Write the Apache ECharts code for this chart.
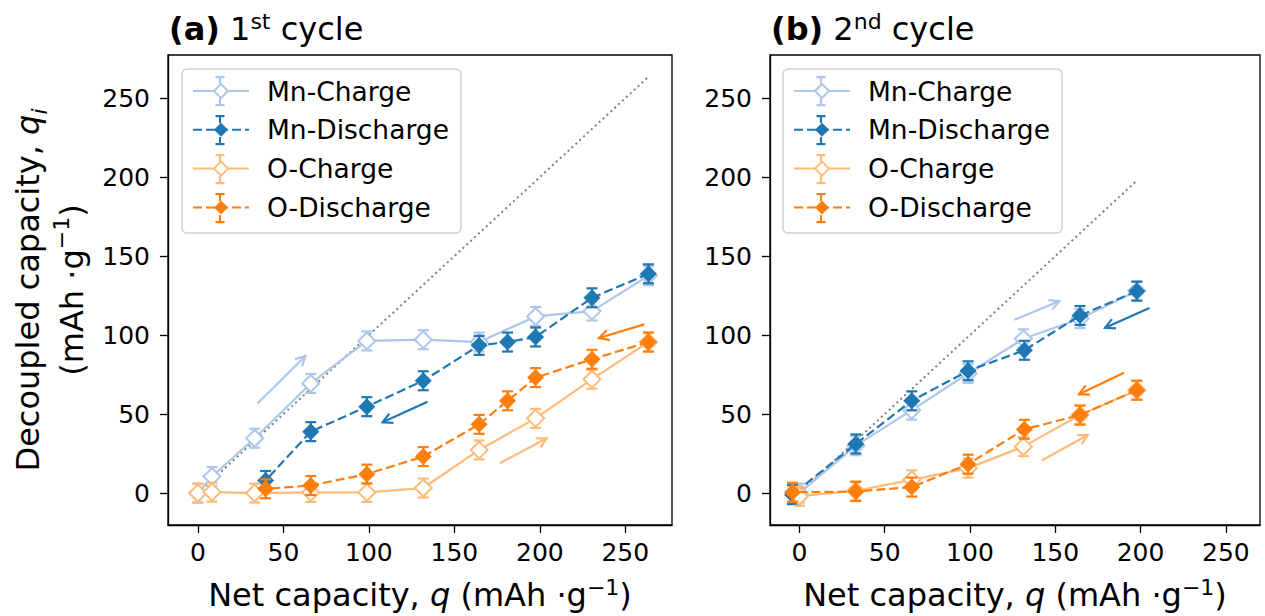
<!DOCTYPE html>
<html><head><meta charset="utf-8">
<script src="https://cdn.jsdelivr.net/npm/echarts@6/dist/echarts.min.js"></script>
<style>html,body{margin:0;padding:0;background:#fff}#c{width:1265px;height:616px}</style>
</head><body><div id="c"></div>
<script>
// ---------- data ----------
const seriesNames = ['Mn-Charge', 'Mn-Discharge', 'O-Charge', 'O-Discharge'];
const tickValues = [0, 50, 100, 150, 200, 250];

// panel (a) 1st cycle
const xChargeA      = [0, 8.2, 33.2, 66, 98.8, 131.8, 164.5, 197.5, 230.5, 263.5];
const mnChargeA     = [0, 10.5, 34.7, 69.4, 96.3, 97.1, 95.6, 111.8, 115.2, 137.6];
const mnChargeErrA  = [6, 6, 6, 6, 6, 6, 6, 6, 6, 6];
const oChargeA      = [0, 0.6, 0, 0.4, 0.4, 3.2, 27.3, 47.3, 72.1, 95.6];
const oChargeErrA   = [6, 6, 6, 6, 6, 6, 6, 6, 6, 6];
const xDischargeA   = [263.5, 230.5, 197.5, 181.1, 164.5, 131.8, 98.8, 66, 39.6];
const mnDischargeA  = [138.8, 123.6, 98.8, 95.6, 93.5, 71.1, 54.7, 38.9, 8.0];
const mnDischargeErrA = [6, 6, 6, 6, 6, 6, 6, 6, 6];
const oDischargeA   = [95.6, 84.7, 73.1, 58.4, 43.5, 23.1, 12.0, 4.8, 2.7];
const oDischargeErrA = [6, 6, 6, 6, 6, 6, 6, 6, 6];
const diagonalA     = [[0, 0], [263.5, 263.5]];
const arrowMnChargeA    = [[34.8, 56.7], [62.9, 86.8]];
const arrowMnDischargeA = [[134.3, 57.8], [108, 44.8]];
const arrowOChargeA     = [[176.6, 18.9], [204, 34.7]];
const arrowODischargeA  = [[261.1, 106.8], [234.6, 98.2]];

// panel (b) 2nd cycle
const xChargeB      = [0, 33.1, 65.9, 98.9, 131.3, 164.5, 197.8];
const mnChargeB     = [0, 30, 52.5, 75.7, 97.7, 110.4, 128];
const mnChargeErrB  = [6, 6, 6, 6, 6, 6, 6];
const oChargeB      = [-2, 1.5, 8.4, 15.8, 29.4, 49.4, 65.1];
const oChargeErrB   = [6, 6, 6, 6, 6, 6, 6];
const xDischargeB   = [197.8, 164.5, 131.9, 98.9, 65.9, 33.1, -4];
const mnDischargeB  = [127.8, 112.4, 90.4, 77.4, 58.4, 31.1, -1];
const mnDischargeErrB = [6, 6, 6, 6, 6, 6, 6];
const oDischargeB   = [65.1, 49.4, 40.4, 18.3, 3.8, 1.0, 0.5];
const oDischargeErrB = [6, 6, 6, 6, 6, 6, 6];
const diagonalB     = [[0, 0], [198, 198]];
const arrowMnChargeB    = [[126, 109.7], [152.4, 121.5]];
const arrowMnDischargeB = [[205.2, 117.1], [179.2, 104.7]];
const arrowOChargeB     = [[142.1, 20.6], [169.1, 36.8]];
const arrowODischargeB  = [[190.3, 76.1], [163.9, 62.6]];

// ---------- styles ----------
const FONT = 'DejaVu Sans';
const colors = {'Mn-Charge': '#aec7e8', 'Mn-Discharge': '#1f77b4', 'O-Charge': '#ffbb78', 'O-Discharge': '#ff7f0e'};
const hollow = {'Mn-Charge': true, 'Mn-Discharge': false, 'O-Charge': true, 'O-Discharge': false};

const panels = [
  {
    sets: {
      'Mn-Charge':    [xChargeA, mnChargeA, mnChargeErrA, arrowMnChargeA],
      'Mn-Discharge': [xDischargeA, mnDischargeA, mnDischargeErrA, arrowMnDischargeA],
      'O-Charge':     [xChargeA, oChargeA, oChargeErrA, arrowOChargeA],
      'O-Discharge':  [xDischargeA, oDischargeA, oDischargeErrA, arrowODischargeA]
    },
    diag: diagonalA
  },
  {
    sets: {
      'Mn-Charge':    [xChargeB, mnChargeB, mnChargeErrB, arrowMnChargeB],
      'Mn-Discharge': [xDischargeB, mnDischargeB, mnDischargeErrB, arrowMnDischargeB],
      'O-Charge':     [xChargeB, oChargeB, oChargeErrB, arrowOChargeB],
      'O-Discharge':  [xDischargeB, oDischargeB, oDischargeErrB, arrowODischargeB]
    },
    diag: diagonalB
  }
];

const LW = 2.2;
const series = [];
panels.forEach((p, gi) => {
  let z = 2;
  series.push({
    type: 'line', name: 'diag' + gi, xAxisIndex: gi, yAxisIndex: gi, z: z++,
    data: p.diag, symbol: 'none', silent: true,
    lineStyle: {color: '#808080', width: 2, type: [2, 3.3]}
  });
  seriesNames.forEach(name => {
    const [xs, ys, es] = p.sets[name];
    const col = colors[name];
    series.push({
      type: 'custom', name: name + ' err' + gi, xAxisIndex: gi, yAxisIndex: gi, z: z++, silent: true,
      data: xs.map((x, i) => [x, ys[i], es[i]]),
      encode: {x: 0, y: 1},
      renderItem: function (params, api) {
        const x = api.value(0), y = api.value(1), e = api.value(2);
        const a = api.coord([x, y + e]), b = api.coord([x, y - e]);
        const c = 5.5;
        const st = {stroke: col, lineWidth: LW, fill: null};
        return {type: 'group', children: [
          {type: 'line', shape: {x1: a[0], y1: a[1], x2: b[0], y2: b[1]}, style: st},
          {type: 'line', shape: {x1: a[0] - c, y1: a[1], x2: a[0] + c, y2: a[1]}, style: st},
          {type: 'line', shape: {x1: b[0] - c, y1: b[1], x2: b[0] + c, y2: b[1]}, style: st}
        ]};
      }
    });
    series.push({
      type: 'line', name: name, xAxisIndex: gi, yAxisIndex: gi, z: z++,
      data: xs.map((x, i) => [x, ys[i]]),
      symbol: hollow[name] ? 'emptyDiamond' : 'diamond', symbolSize: 17,
      lineStyle: {color: col, width: LW, type: hollow[name] ? 'solid' : [9, 4]},
      itemStyle: {color: col, borderColor: col, borderWidth: hollow[name] ? 2 : 0},
      emphasis: {disabled: true}
    });
  });
  seriesNames.forEach(name => {
    const arr = p.sets[name][3];
    const col = colors[name];
    series.push({
      type: 'custom', name: name + ' arrow' + gi, xAxisIndex: gi, yAxisIndex: gi, z: z++, silent: true,
      data: [[arr[0][0], arr[0][1], arr[1][0], arr[1][1]]],
      encode: {x: [0, 2], y: [1, 3]},
      renderItem: function (params, api) {
        const p0 = api.coord([api.value(0), api.value(1)]);
        const p1 = api.coord([api.value(2), api.value(3)]);
        const ang = Math.atan2(p1[1] - p0[1], p1[0] - p0[0]);
        const L = 11, A = Math.PI / 6.5;
        const h1 = [p1[0] - L * Math.cos(ang - A), p1[1] - L * Math.sin(ang - A)];
        const h2 = [p1[0] - L * Math.cos(ang + A), p1[1] - L * Math.sin(ang + A)];
        const st = {stroke: col, lineWidth: LW, fill: null};
        return {type: 'group', children: [
          {type: 'line', shape: {x1: p0[0], y1: p0[1], x2: p1[0], y2: p1[1]}, style: st},
          {type: 'polyline', shape: {points: [h1, p1, h2]}, style: st}
        ]};
      }
    });
  });
});

const grids = [
  {left: 168, top: 55, width: 504, height: 472},
  {left: 770, top: 55, width: 490, height: 472}
].map(g => Object.assign(g, {show: true, borderColor: '#000', borderWidth: 1.3, backgroundColor: 'transparent', containLabel: false}));

const xRanges = [[-17.5, 277.3], [-17.2, 270.0]];
const LBL = 32, SUP = 22;
const supRich = {
  n: {fontSize: LBL, fontFamily: FONT, fontWeight: 'normal', color: '#000', lineHeight: 38},
  i: {fontSize: LBL, fontFamily: FONT, fontWeight: 'normal', color: '#000', fontStyle: 'italic', lineHeight: 38},
  sup: {fontSize: SUP, fontFamily: FONT, fontWeight: 'normal', color: '#000', lineHeight: 12, verticalAlign: 'top'}
};
const yRich = {
  n: {fontSize: LBL, fontFamily: FONT, fontWeight: 'normal', color: '#000', lineHeight: 44},
  i: {fontSize: LBL, fontFamily: FONT, fontWeight: 'normal', color: '#000', fontStyle: 'italic', lineHeight: 44},
  sub: {fontSize: SUP, fontFamily: FONT, fontWeight: 'normal', color: '#000', fontStyle: 'italic', lineHeight: 32, verticalAlign: 'bottom'},
  sup: {fontSize: SUP, fontFamily: FONT, fontWeight: 'normal', color: '#000', lineHeight: 18, verticalAlign: 'top'}
};

const axisCommon = {
  type: 'value',
  splitLine: {show: false},
  axisLine: {show: true, onZero: false, lineStyle: {color: '#000', width: 1.3}},
  axisTick: {show: true, inside: false, length: 8, customValues: tickValues, lineStyle: {color: '#000', width: 1.3}},
  axisLabel: {customValues: tickValues, fontSize: 25, fontFamily: FONT, color: '#000'}
};

const xAxis = xRanges.map((r, gi) => Object.assign({}, axisCommon, {
  gridIndex: gi, min: r[0], max: r[1],
  axisLabel: Object.assign({}, axisCommon.axisLabel, {margin: 15}),
  name: '{n|Net capacity, }{i|q}{n| (mAh ·g}{sup|−1}{n|)}',
  nameLocation: 'middle', nameGap: 51,
  nameTextStyle: {rich: supRich}
}));
const yAxis = [0, 1].map(gi => Object.assign({}, axisCommon, {
  gridIndex: gi, min: -20.2, max: 277.3,
  axisLabel: Object.assign({}, axisCommon.axisLabel, {margin: 18}),
  name: gi === 0 ? '{n|Decoupled capacity, }{i|q}{sub|i}\n{n|(mAh ·g}{sup|−1}{n|)}' : '',
  nameLocation: 'middle', nameRotate: 90, nameGap: 74,
  nameTextStyle: {rich: yRich}
}));

const titleRich = {
  b: {fontSize: 32, fontFamily: FONT, fontWeight: 'bold', color: '#000', lineHeight: 38},
  n: {fontSize: 32, fontFamily: FONT, fontWeight: 'normal', color: '#000', lineHeight: 38},
  sup: {fontSize: 22, fontFamily: FONT, fontWeight: 'normal', color: '#000', lineHeight: 12, verticalAlign: 'top'}
};

// legend layout
const LEG_FONT = 26.5;
const LEG_TOP = 69, LEG_PAD = [8.5, 12, 12, 10], ITEM_W = 56, ITEM_H = 17.5, ROW_H = 27.2, ITEM_GAP = 11.8;
const legendLefts = [182, 783];
const legendCommon = {
  orient: 'vertical', top: LEG_TOP, padding: LEG_PAD,
  itemWidth: ITEM_W, itemHeight: ITEM_H, itemGap: ITEM_GAP,
  data: seriesNames, selectedMode: false,
  backgroundColor: 'rgba(255,255,255,0.8)', borderColor: '#d0d0d0', borderWidth: 1.5, borderRadius: 5,
  textStyle: {fontSize: LEG_FONT, fontFamily: FONT, color: '#000', padding: [0, 0, 0, 13]}
};

// error-bar glyphs inside legend icons
const graphics = [];
legendLefts.forEach(lx => {
  seriesNames.forEach((name, i) => {
    const cx = lx + LEG_PAD[3] + ITEM_W / 2;
    const cy = LEG_TOP + LEG_PAD[0] + i * (ROW_H + ITEM_GAP) + ROW_H / 2;
    const st = {stroke: colors[name], lineWidth: LW, fill: null};
    const e = 14, c = 4.5, gap = 7;
    graphics.push(
      {type: 'line', z: 100, silent: true, shape: {x1: cx, y1: cy - e, x2: cx, y2: cy - gap}, style: st},
      {type: 'line', z: 100, silent: true, shape: {x1: cx, y1: cy + gap, x2: cx, y2: cy + e}, style: st},
      {type: 'line', z: 100, silent: true, shape: {x1: cx - c, y1: cy - e, x2: cx + c, y2: cy - e}, style: st},
      {type: 'line', z: 100, silent: true, shape: {x1: cx - c, y1: cy + e, x2: cx + c, y2: cy + e}, style: st}
    );
  });
});

const option = {
  animation: false,
  textStyle: {fontFamily: FONT},
  title: [
    {text: '{b|(a)}{n| 1}{sup|st}{n| cycle}', left: 164, top: 5, textStyle: {fontWeight: 'normal', rich: titleRich}},
    {text: '{b|(b)}{n| 2}{sup|nd}{n| cycle}', left: 766, top: 5, textStyle: {fontWeight: 'normal', rich: titleRich}}
  ],
  legend: legendLefts.map(l => Object.assign({}, legendCommon, {left: l})),
  grid: grids,
  xAxis: xAxis,
  yAxis: yAxis,
  graphic: graphics,
  series: series
};

const chart = echarts.init(document.getElementById('c'), null, {renderer: 'svg', width: 1265, height: 616});
chart.setOption(option);
</script>
</body></html>
